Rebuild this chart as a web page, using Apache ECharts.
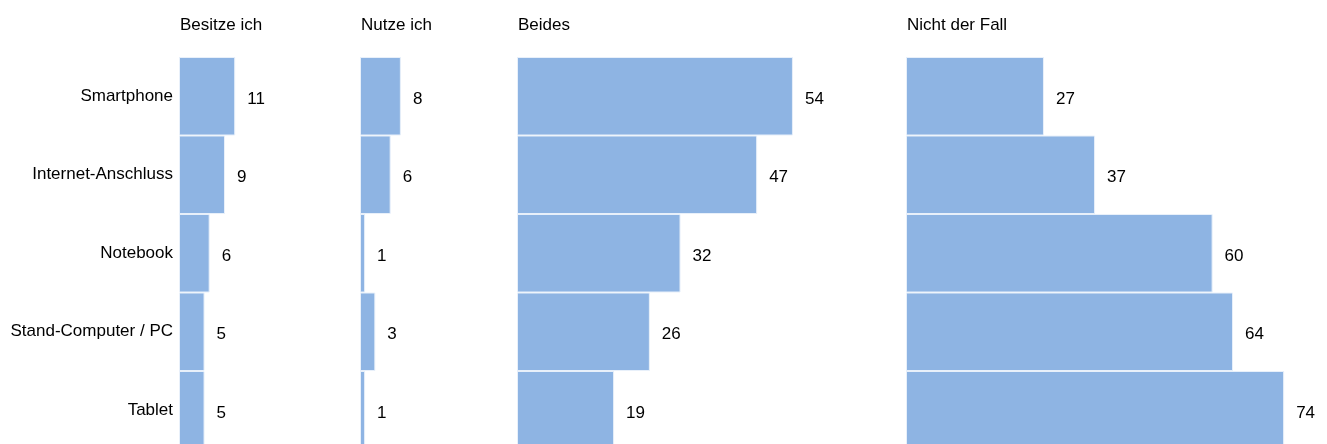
<!DOCTYPE html>
<html><head><meta charset="utf-8">
<script src="https://cdn.jsdelivr.net/npm/echarts@6/dist/echarts.min.js"></script>
<style>html,body{margin:0;padding:0;background:#fff;overflow:hidden;width:1327px;height:444px}#c{width:1327px;height:450px}</style>
</head><body><div id="c"></div>
<script>
const categories = ['Smartphone', 'Internet-Anschluss', 'Notebook', 'Stand-Computer / PC', 'Tablet'];
const panelTitles = ['Besitze ich', 'Nutze ich', 'Beides', 'Nicht der Fall'];
const besitze = [11, 9, 6, 5, 5];
const nutze = [8, 6, 1, 3, 1];
const beides = [54, 47, 32, 26, 19];
const nicht = [27, 37, 60, 64, 74];
const seriesData = [besitze, nutze, beides, nicht];

const lefts = [179, 360, 517, 906];
const axisMax = 80;
const pxPerUnit = 5.11;
const font = 'Liberation Sans, Arial, sans-serif';
const fs = 17;

const chart = echarts.init(document.getElementById('c'), null, {renderer: 'canvas'});
const grids = [], xAxes = [], yAxes = [], series = [], titles = [];
seriesData.forEach((d, i) => {
  grids.push({left: lefts[i], top: 57, width: axisMax * pxPerUnit, height: 392.5, containLabel: false});
  xAxes.push({type: 'value', gridIndex: i, min: 0, max: axisMax, show: false});
  yAxes.push({type: 'category', gridIndex: i, data: categories, inverse: true,
    axisLine: {show: false}, axisTick: {show: false}, splitLine: {show: false},
    axisLabel: {show: i === 0, margin: 6, color: '#000', fontSize: fs, fontFamily: font}});
  series.push({type: 'bar', xAxisIndex: i, yAxisIndex: i, data: d, barCategoryGap: 0,
    itemStyle: {color: '#8eb4e3', borderColor: '#e8f0fa', borderWidth: 1},
    label: {show: true, position: 'right', distance: 12, offset: [0, 3], color: '#000', fontSize: fs, fontFamily: font},
    silent: true, animation: false});
  titles.push({text: panelTitles[i], left: lefts[i] + 1, top: 17, padding: 0,
    textStyle: {fontSize: fs, fontWeight: 'normal', color: '#000', fontFamily: font}});
});
chart.setOption({animation: false, title: titles, grid: grids, xAxis: xAxes, yAxis: yAxes, series: series});
</script></body></html>
